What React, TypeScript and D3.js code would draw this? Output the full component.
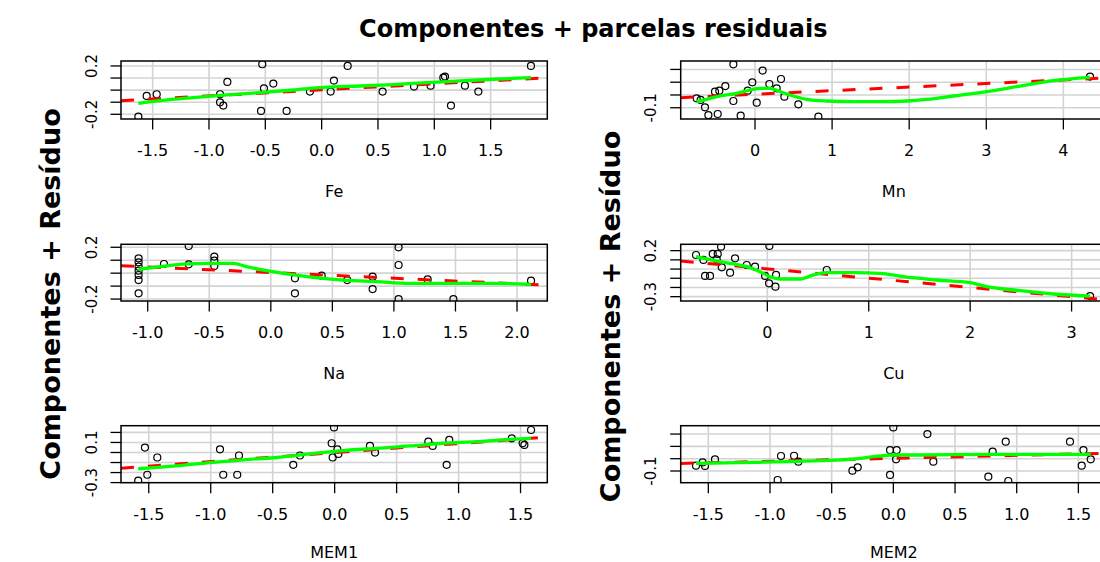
import React from 'react';
import * as d3 from 'd3';

const W = 1100;
const H = 562;

// ---------------- data ----------------
// Fe
const feX = [-1.627, -1.553, -1.464, -0.902, -0.902, -0.873, -0.837, -0.538, -0.527, -0.512, -0.429, -0.311, -0.104, 0.08, 0.109, 0.231, 0.541, 0.82, 0.967, 1.08, 1.095, 1.148, 1.272, 1.391, 1.858];
const feY = [-0.219, -0.048, -0.034, -0.034, -0.101, -0.128, 0.068, -0.172, 0.214, 0.015, 0.054, -0.172, -0.012, -0.012, 0.079, 0.2, -0.012, 0.029, 0.037, 0.103, 0.112, -0.128, 0.037, -0.012, 0.2];
const feSmoothX = [-1.627, -1.435, -1.139, -0.843, -0.547, -0.251, 0.015, 0.34, 0.636, 0.932, 1.228, 1.524, 1.858];
const feSmoothY = [-0.109, -0.087, -0.062, -0.04, -0.021, 0.001, 0.023, 0.034, 0.046, 0.062, 0.076, 0.09, 0.103];
const feFit = [0.002, 0.05];
const feXTicks = [-1.5, -1, -0.5, 0, 0.5, 1, 1.5];
const feYTicks = [-0.2, -0.1, 0, 0.1, 0.2];
const feYLabels = [0.2, -0.2];

// Mn
const mnX = [-0.281, 0.099, 0.337, -0.035, 0.186, 0.281, -0.385, -0.463, -0.519, -0.095, -0.281, 0.381, 0.022, 0.562, -0.757, -0.705, -0.649, -0.605, -0.484, -0.186, 0.822, 4.346];
const mnY = [0.24, 0.191, 0.125, 0.099, 0.086, 0.052, 0.07, 0.034, 0.026, 0.034, -0.047, -0.013, -0.06, -0.073, -0.026, -0.039, -0.097, -0.157, -0.149, -0.162, -0.17, 0.144];
const mnSmoothX = [-0.757, -0.627, -0.454, -0.238, -0.065, 0.065, 0.195, 0.324, 0.454, 0.67, 0.93, 1.276, 1.708, 1.968, 2.227, 2.573, 3.005, 3.438, 3.87, 4.346];
const mnSmoothY = [-0.052, -0.034, -0.008, 0.013, 0.039, 0.052, 0.052, 0.026, 0.0, -0.034, -0.047, -0.052, -0.052, -0.047, -0.034, -0.008, 0.026, 0.07, 0.112, 0.138];
const mnFit = [0.006, 0.0279];
const mnXTicks = [0, 1, 2, 3, 4];
const mnYTicks = [-0.1, 0, 0.1, 0.2];
const mnYLabels = [-0.1];

// Na
const naX = [-1.074, -1.074, -1.074, -1.074, -1.074, -1.074, -1.074, -0.868, -0.667, -0.667, -0.459, -0.459, -0.459, 0.196, 0.196, 0.413, 0.621, 0.827, 0.827, 1.038, 1.038, 1.038, 1.274, 1.483, 2.114];
const naY = [0.115, 0.084, 0.05, 0.019, -0.014, -0.053, -0.156, 0.071, 0.21, 0.068, 0.128, 0.097, 0.055, -0.04, -0.156, -0.019, -0.053, -0.027, -0.123, 0.2, 0.063, -0.2, -0.048, -0.2, -0.058];
const naSmoothX = [-1.074, -0.9, -0.684, -0.494, -0.305, -0.196, -0.034, 0.129, 0.345, 0.589, 0.86, 1.131, 1.401, 1.807, 2.114];
const naSmoothY = [0.03, 0.05, 0.071, 0.076, 0.076, 0.05, 0.019, -0.006, -0.032, -0.053, -0.066, -0.079, -0.079, -0.079, -0.086];
const naFit = [0.0048, -0.0437];
const naXTicks = [-1, -0.5, 0, 0.5, 1, 1.5, 2];
const naYTicks = [-0.2, -0.1, 0, 0.1, 0.2];
const naYLabels = [0.2, -0.2];

// Cu
const cuX = [-0.703, -0.63, -0.538, -0.489, -0.456, -0.499, -0.318, -0.449, -0.367, -0.614, -0.565, -0.203, -0.121, 0.02, -0.022, 0.017, 0.08, 0.086, 0.586, 3.182];
const cuY = [0.153, 0.099, 0.164, 0.164, 0.243, 0.106, 0.117, 0.019, -0.039, -0.075, -0.075, 0.044, 0.026, 0.251, -0.075, -0.155, -0.191, -0.064, -0.01, -0.293];
const cuSmoothX = [-0.703, -0.466, -0.203, -0.072, 0.027, 0.125, 0.323, 0.454, 0.586, 0.849, 1.112, 1.341, 1.67, 2.0, 2.164, 2.492, 2.821, 3.182];
const cuSmoothY = [0.135, 0.08, 0.026, -0.028, -0.083, -0.108, -0.108, -0.064, -0.039, -0.039, -0.046, -0.083, -0.119, -0.148, -0.191, -0.235, -0.271, -0.293];
const cuFit = [0.002, -0.1008];
const cuXTicks = [0, 1, 2, 3];
const cuYTicks = [-0.3, -0.2, -0.1, 0, 0.1, 0.2];
const cuYLabels = [0.2, -0.3];

// MEM1
const m1X = [-1.585, -1.512, -1.531, -1.431, -0.925, -0.899, -0.786, -0.772, -0.334, -0.28, -0.024, -0.005, -0.016, 0.022, 0.03, 0.285, 0.326, 0.756, 0.791, 0.904, 0.925, 1.429, 1.517, 1.531, 1.585];
const m1Y = [-0.281, -0.222, 0.049, -0.05, 0.032, -0.222, -0.222, -0.03, -0.123, -0.03, 0.092, 0.25, -0.05, 0.032, -0.014, 0.065, -0.001, 0.108, 0.065, -0.123, 0.125, 0.141, 0.092, 0.075, 0.224];
const m1SmoothX = [-1.585, -1.275, -1.006, -0.737, -0.468, -0.199, 0.07, 0.339, 0.608, 0.877, 1.146, 1.415, 1.585];
const m1SmoothY = [-0.162, -0.133, -0.1, -0.073, -0.05, -0.014, 0.019, 0.042, 0.065, 0.092, 0.108, 0.131, 0.141];
const m1Fit = [-0.001, 0.09];
const m1XTicks = [-1.5, -1, -0.5, 0, 0.5, 1, 1.5];
const m1YTicks = [-0.3, -0.2, -0.1, 0, 0.1, 0.2];
const m1YLabels = [0.1, -0.3];

// MEM2
const m2X = [-1.6, -1.546, -1.527, -1.446, -0.938, -0.911, -0.805, -0.77, -0.332, -0.289, -0.027, -0.027, 0.0, 0.027, 0.022, 0.276, 0.324, 0.77, 0.805, 0.911, 0.932, 1.432, 1.541, 1.527, 1.6];
const m2Y = [-0.057, -0.03, -0.059, -0.005, -0.173, 0.022, 0.024, -0.024, -0.097, -0.07, -0.132, 0.07, 0.254, 0.07, -0.005, 0.2, -0.024, -0.146, 0.057, 0.138, -0.181, 0.138, 0.07, -0.057, -0.005];
const m2SmoothX = [-1.6, -1.135, -0.595, -0.324, -0.162, 0.0, 0.216, 0.757, 1.297, 1.6];
const m2SmoothY = [-0.038, -0.03, -0.016, -0.003, 0.016, 0.03, 0.03, 0.035, 0.035, 0.035];
const m2Fit = [0.003, 0.024];
const m2XTicks = [-1.5, -1, -0.5, 0, 0.5, 1, 1.5];
const m2YTicks = [-0.1, 0, 0.1, 0.2];
const m2YLabels = [-0.1];

const titleText = 'Componentes + parcelas residuais';
const yTitleText = 'Componentes + Resíduo';

// ---------------- layout ----------------
const colLeft = [121, 680.7];
const boxW = 426.3;
const rowTop = [61, 244.3, 425.7];
const rowBottom = [119, 301, 482.7];

type PanelDef = {
  id: string;
  label: string;
  col: number;
  row: number;
  xd: [number, number];
  yd: [number, number];
  px: number[];
  py: number[];
  sx: number[];
  sy: number[];
  fit: number[];
  xt: number[];
  yt: number[];
  yl: number[];
  xdec: number;
};

const panels: PanelDef[] = [
  { id: 'fe', label: 'Fe', col: 0, row: 0, xd: [-1.781, 2.003], yd: [-0.239, 0.241], px: feX, py: feY, sx: feSmoothX, sy: feSmoothY, fit: feFit, xt: feXTicks, yt: feYTicks, yl: feYLabels, xdec: 1 },
  { id: 'mn', label: 'Mn', col: 1, row: 0, xd: [-0.964, 4.566], yd: [-0.188, 0.266], px: mnX, py: mnY, sx: mnSmoothX, sy: mnSmoothY, fit: mnFit, xt: mnXTicks, yt: mnYTicks, yl: mnYLabels, xdec: 0 },
  { id: 'na', label: 'Na', col: 0, row: 1, xd: [-1.217, 2.246], yd: [-0.215, 0.223], px: naX, py: naY, sx: naSmoothX, sy: naSmoothY, fit: naFit, xt: naXTicks, yt: naYTicks, yl: naYLabels, xdec: 1 },
  { id: 'cu', label: 'Cu', col: 1, row: 1, xd: [-0.854, 3.349], yd: [-0.347, 0.269], px: cuX, py: cuY, sx: cuSmoothX, sy: cuSmoothY, fit: cuFit, xt: cuXTicks, yt: cuYTicks, yl: cuYLabels, xdec: 0 },
  { id: 'm1', label: 'MEM1', col: 0, row: 2, xd: [-1.724, 1.716], yd: [-0.301, 0.267], px: m1X, py: m1Y, sx: m1SmoothX, sy: m1SmoothY, fit: m1Fit, xt: m1XTicks, yt: m1YTicks, yl: m1YLabels, xdec: 1 },
  { id: 'm2', label: 'MEM2', col: 1, row: 2, xd: [-1.724, 1.732], yd: [-0.195, 0.268], px: m2X, py: m2Y, sx: m2SmoothX, sy: m2SmoothY, fit: m2Fit, xt: m2XTicks, yt: m2YTicks, yl: m2YLabels, xdec: 1 },
];

const FONT = "'DejaVu Sans', 'Liberation Sans', Arial, sans-serif";
const fmt = (v: number, d: number) => (Math.abs(v) < 1e-9 ? 0 : v).toFixed(d);

function Panel({ p }: { p: PanelDef }) {
  const left = colLeft[p.col];
  const right = left + boxW;
  const top = rowTop[p.row];
  const bottom = rowBottom[p.row];
  const x = d3.scaleLinear().domain(p.xd).range([left, right]);
  const y = d3.scaleLinear().domain(p.yd).range([bottom, top]);
  const smooth = d3
    .line<number>()
    .x((_, i) => x(p.sx[i]))
    .y((d) => y(d))
    .curve(d3.curveMonotoneX)(p.sy) as string;
  const fitLine = d3
    .line<number>()
    .x((d) => x(d))
    .y((d) => y(p.fit[0] + p.fit[1] * d))(p.xd) as string;
  const clipId = 'clip-' + p.id;
  const tickLen = 10.5;
  return (
    <g>
      <defs>
        <clipPath id={clipId}>
          <rect x={left} y={top} width={boxW} height={bottom - top} />
        </clipPath>
      </defs>
      <g clipPath={`url(#${clipId})`}>
        {p.xt.map((t) => (
          <line key={'gx' + t} x1={x(t)} x2={x(t)} y1={top} y2={bottom} stroke="#d3d3d3" strokeWidth={1.6} />
        ))}
        {p.yt.map((t) => (
          <line key={'gy' + t} x1={left} x2={right} y1={y(t)} y2={y(t)} stroke="#d3d3d3" strokeWidth={1.6} />
        ))}
        {p.px.map((v, i) => (
          <circle key={'pt' + i} cx={x(v)} cy={y(p.py[i])} r={3.5} fill="none" stroke="#000" strokeWidth={1.2} />
        ))}
        <path d={fitLine} fill="none" stroke="#ff0000" strokeWidth={3} strokeDasharray="13 14" />
        <path d={smooth} fill="none" stroke="#00ff00" strokeWidth={3.3} />
      </g>
      <rect x={left} y={top} width={boxW} height={bottom - top} fill="none" stroke="#000" strokeWidth={1.5} />
      {p.xt.map((t) => (
        <g key={'tx' + t}>
          <line x1={x(t)} x2={x(t)} y1={bottom} y2={bottom + tickLen} stroke="#000" strokeWidth={1.3} />
          <text x={x(t)} y={bottom + 37} textAnchor="middle" fontFamily={FONT} fontSize={16} fill="#000">
            {fmt(t, p.xdec)}
          </text>
        </g>
      ))}
      {p.yt.map((t) => (
        <line key={'ty' + t} x1={left - tickLen} x2={left} y1={y(t)} y2={y(t)} stroke="#000" strokeWidth={1.3} />
      ))}
      {p.yl.map((t) => (
        <text
          key={'yl' + t}
          transform={`translate(${left - 24.5},${y(t)}) rotate(-90)`}
          textAnchor="middle"
          fontFamily={FONT}
          fontSize={15}
          fill="#000"
        >
          {fmt(t, 1)}
        </text>
      ))}
      <text x={(left + right) / 2} y={Math.min(bottom + 77.5, 558)} textAnchor="middle" fontFamily={FONT} fontSize={16} fill="#000">
        {p.label}
      </text>
    </g>
  );
}

export default function App() {
  return (
    <svg
      width={W}
      height={H}
      viewBox={`0 0 ${W} ${H}`}
      style={{ position: 'absolute', left: 0, top: 0, background: '#fff' }}
    >
      <rect x={0} y={0} width={W} height={H} fill="#fff" />
      <text x={593.3} y={37.3} textAnchor="middle" fontFamily={FONT} fontWeight="bold" fontSize={24} fill="#000">
        {titleText}
      </text>
      <text transform="translate(60,294) rotate(-90)" textAnchor="middle" fontFamily={FONT} fontWeight="bold" fontSize={27} fill="#000">
        {yTitleText}
      </text>
      <text transform="translate(620,316.5) rotate(-90)" textAnchor="middle" fontFamily={FONT} fontWeight="bold" fontSize={27} fill="#000">
        {yTitleText}
      </text>
      {panels.map((p) => (
        <Panel key={p.id} p={p} />
      ))}
    </svg>
  );
}
